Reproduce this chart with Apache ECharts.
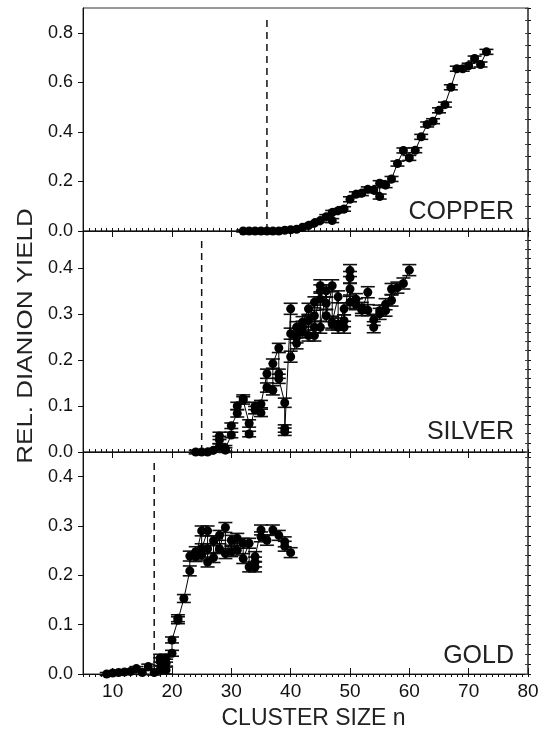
<!DOCTYPE html>
<html>
<head>
<meta charset="utf-8">
<script src="https://cdn.jsdelivr.net/npm/echarts@6/dist/echarts.min.js"></script>
<style>
  html, body { margin: 0; padding: 0; background: #fff; }
  #chart { width: 547px; height: 731px; }
</style>
</head>
<body>
<div id="chart"></div>
<script>
// [cluster size n, relative dianion yield, error]
var copperData = [
  [32, 0, 0.004], [33, 0, 0.004], [34, 0, 0.004], [35, 0, 0.004], [36, 0, 0.004],
  [37, 0, 0.004], [38, 0, 0.004], [39, 0.003, 0.004], [40, 0.005, 0.004], [41, 0.007, 0.005],
  [42, 0.015, 0.005], [43, 0.022, 0.006], [44, 0.032, 0.006], [45, 0.042, 0.007], [46, 0.058, 0.008],
  [47, 0.042, 0.008], [47, 0.075, 0.008], [48, 0.082, 0.008], [49, 0.089, 0.009], [50, 0.128, 0.01],
  [51, 0.148, 0.01], [52, 0.153, 0.01], [53, 0.168, 0.01], [54, 0.165, 0.01], [55, 0.139, 0.01],
  [55, 0.193, 0.01], [56, 0.185, 0.01], [57, 0.21, 0.01], [58, 0.272, 0.01], [59, 0.325, 0.01],
  [60, 0.295, 0.01], [61, 0.326, 0.01], [62, 0.38, 0.01], [63, 0.43, 0.01], [64, 0.443, 0.01],
  [65, 0.487, 0.01], [66, 0.51, 0.01], [67, 0.58, 0.01], [68, 0.655, 0.01], [69, 0.655, 0.01],
  [70, 0.667, 0.01], [71, 0.696, 0.01], [72, 0.672, 0.01], [73, 0.723, 0.01]
];

var silverData = [
  [24, 0, 0.004], [25, 0, 0.004], [26, 0, 0.004], [27, 0.004, 0.004],
  [28, 0.012, 0.006], [28, 0.035, 0.008], [28, 0.026, 0.008], [29, 0.008, 0.006], [29, 0.004, 0.005],
  [30, 0.037, 0.006], [30, 0.057, 0.006], [31, 0.084, 0.008], [31, 0.1, 0.008],
  [32, 0.112, 0.008], [32, 0.116, 0.008], [33, 0.062, 0.008], [33, 0.039, 0.006],
  [34, 0.1, 0.008], [34, 0.091, 0.008], [35, 0.085, 0.008], [35, 0.104, 0.008],
  [36, 0.17, 0.01], [36, 0.14, 0.01], [37, 0.134, 0.01], [37, 0.192, 0.01],
  [38, 0.226, 0.01], [38, 0.17, 0.01], [38, 0.159, 0.01],
  [39, 0.107, 0.01], [39, 0.051, 0.008], [39, 0.044, 0.008],
  [40, 0.311, 0.012], [40, 0.257, 0.012], [40, 0.207, 0.012],
  [41, 0.236, 0.012], [41, 0.271, 0.012], [41, 0.249, 0.012],
  [42, 0.272, 0.012], [42, 0.26, 0.012], [42, 0.282, 0.012],
  [43, 0.311, 0.012], [43, 0.253, 0.012], [43, 0.285, 0.012],
  [44, 0.325, 0.012], [44, 0.296, 0.012], [44, 0.253, 0.012], [44, 0.271, 0.012],
  [45, 0.361, 0.013], [45, 0.35, 0.013], [45, 0.332, 0.013], [45, 0.271, 0.013],
  [46, 0.35, 0.013], [46, 0.323, 0.013], [46, 0.296, 0.013],
  [47, 0.361, 0.013], [47, 0.282, 0.013], [47, 0.278, 0.013],
  [48, 0.337, 0.013], [48, 0.278, 0.013], [48, 0.271, 0.013],
  [49, 0.311, 0.013], [49, 0.271, 0.013], [49, 0.285, 0.013],
  [50, 0.394, 0.013], [50, 0.379, 0.013], [50, 0.354, 0.013], [50, 0.325, 0.013],
  [51, 0.332, 0.012], [51, 0.321, 0.012], [52, 0.313, 0.012], [52, 0.308, 0.012],
  [53, 0.347, 0.012], [53, 0.308, 0.012], [54, 0.287, 0.012], [54, 0.271, 0.012],
  [55, 0.3, 0.012], [55, 0.307, 0.012], [56, 0.321, 0.012], [56, 0.307, 0.012],
  [57, 0.354, 0.012], [57, 0.329, 0.012], [58, 0.357, 0.012], [59, 0.366, 0.012],
  [60, 0.395, 0.012]
];

var goldData = [
  [9, 0, 0.003], [10, 0.002, 0.003], [11, 0.003, 0.003], [12, 0.004, 0.003], [13, 0.005, 0.003],
  [14, 0.011, 0.004], [15, 0.003, 0.004], [16, 0.015, 0.005], [17, 0.003, 0.005],
  [18, 0.025, 0.008], [18, 0.032, 0.008], [18, 0.008, 0.008],
  [19, 0.008, 0.008], [19, 0.022, 0.008], [19, 0.032, 0.008],
  [20, 0.042, 0.006], [20, 0.069, 0.006], [21, 0.109, 0.007], [21, 0.113, 0.007],
  [22, 0.153, 0.008], [23, 0.209, 0.01], [23, 0.239, 0.01], [24, 0.248, 0.01], [24, 0.238, 0.01],
  [25, 0.29, 0.01], [25, 0.241, 0.01], [25, 0.254, 0.01],
  [26, 0.29, 0.01], [26, 0.227, 0.01], [26, 0.254, 0.01], [27, 0.27, 0.01], [27, 0.236, 0.01],
  [28, 0.281, 0.01], [28, 0.254, 0.01], [29, 0.297, 0.01], [29, 0.244, 0.01],
  [30, 0.271, 0.01], [30, 0.248, 0.01], [31, 0.275, 0.01], [31, 0.251, 0.01],
  [32, 0.265, 0.01], [32, 0.234, 0.01], [33, 0.265, 0.01], [33, 0.217, 0.01],
  [34, 0.217, 0.01], [34, 0.227, 0.01], [34, 0.238, 0.01], [35, 0.292, 0.01], [35, 0.278, 0.01],
  [36, 0.271, 0.01], [37, 0.292, 0.01], [38, 0.281, 0.01], [39, 0.268, 0.01], [39, 0.259, 0.01],
  [40, 0.246, 0.01]
];

// critical size (dashed line) and its top end, per panel
var critSize = [36, 25, 17];
var critTop = [0.864, 0.463, 0.43];

var panelNames = ['COPPER', 'SILVER', 'GOLD'];
var yMax = [0.9, 0.48, 0.45];
var yMajor = [0.2, 0.1, 0.1];
var yMinor = [0.05, 0.02, 0.02];
var xTicks = [10, 20, 30, 40, 50, 60, 70, 80];

var FONT = 'Liberation Sans, Arial, sans-serif';
var INK = '#111';

var chart = echarts.init(document.getElementById('chart'), null, { renderer: 'canvas' });

var panelTop = [8, 231, 452];
var panelHeight = [223, 221, 222];

var grids = [], xAxes = [], yAxes = [], series = [], graphics = [];
var allData = [copperData, silverData, goldData];

for (var i = 0; i < 3; i++) {
  var last = i === 2;
  grids.push({
    left: 83, right: 19, top: panelTop[i], height: panelHeight[i],
    show: true, borderColor: '#333', borderWidth: 1,
    containLabel: false, outerBoundsMode: 'none'
  });

  // major x ticks
  xAxes.push({
    gridIndex: i, type: 'value', min: 5, max: 80,
    axisLine: { show: true, onZero: false, lineStyle: { color: INK, width: 1 } },
    axisTick: { show: true, inside: last, length: 6, customValues: xTicks, lineStyle: { color: INK } },
    axisLabel: {
      show: last, customValues: xTicks, margin: 8,
      color: INK, fontSize: 19, fontFamily: FONT
    },
    splitLine: { show: false },
    name: last ? 'CLUSTER SIZE n' : '',
    nameLocation: 'middle', nameGap: 33,
    nameTextStyle: { color: '#222', fontSize: 23, fontFamily: FONT, padding: [0, 0, 0, 16] }
  });
  // minor x ticks
  xAxes.push({
    gridIndex: i, type: 'value', min: 5, max: 80, interval: 1,
    axisLine: { show: false },
    axisTick: { show: true, inside: last, length: 3, lineStyle: { color: INK } },
    axisLabel: { show: false },
    splitLine: { show: false }
  });

  // left main y axis
  yAxes.push({
    gridIndex: i, type: 'value', min: 0, max: yMax[i], interval: yMajor[i],
    axisLine: { show: true, onZero: false, lineStyle: { color: INK, width: 1 } },
    axisTick: { show: true, inside: false, length: 5, lineStyle: { color: INK } },
    axisLabel: {
      margin: 10, color: INK, fontSize: 18, fontFamily: FONT,
      showMaxLabel: false,
      formatter: function (v) { return v.toFixed(1); }
    },
    splitLine: { show: false }
  });
  // left minor y ticks
  yAxes.push({
    gridIndex: i, type: 'value', min: 0, max: yMax[i], interval: yMinor[i],
    axisLine: { show: false },
    axisTick: { show: true, inside: false, length: 3, lineStyle: { color: INK } },
    axisLabel: { show: false },
    splitLine: { show: false }
  });
  // right frame ticks
  yAxes.push({
    gridIndex: i, type: 'value', position: 'right', min: 0, max: yMax[i], interval: yMinor[i],
    axisLine: { show: true, onZero: false, lineStyle: { color: '#444', width: 1.5 } },
    axisTick: { show: true, inside: true, length: 3, lineStyle: { color: '#444' } },
    axisLabel: { show: false },
    splitLine: { show: false }
  });

  // dashed critical-size line
  series.push({
    type: 'line', xAxisIndex: i * 2, yAxisIndex: i * 3, z: 1,
    data: [[critSize[i], 0], [critSize[i], critTop[i]]],
    showSymbol: false, symbol: 'none', silent: true,
    lineStyle: { color: INK, width: 1.5, type: [7, 5] }
  });

  // error bars
  series.push({
    type: 'custom', xAxisIndex: i * 2, yAxisIndex: i * 3, z: 2,
    data: allData[i],
    encode: { x: 0, y: 1 },
    renderItem: function (params, api) {
      var x = api.value(0), y = api.value(1), e = api.value(2);
      var hi = api.coord([x, y + e]);
      var lo = api.coord([x, y - e]);
      var w = 7;
      var st = { stroke: '#111', lineWidth: 1.6 };
      return {
        type: 'group',
        children: [
          { type: 'line', shape: { x1: hi[0], y1: hi[1], x2: lo[0], y2: lo[1] }, style: st },
          { type: 'line', shape: { x1: hi[0] - w, y1: hi[1], x2: hi[0] + w, y2: hi[1] }, style: st },
          { type: 'line', shape: { x1: lo[0] - w, y1: lo[1], x2: lo[0] + w, y2: lo[1] }, style: st }
        ]
      };
    }
  });

  // data points joined by a thin line
  series.push({
    type: 'line', xAxisIndex: i * 2, yAxisIndex: i * 3, z: 3,
    data: allData[i].map(function (d) { return [d[0], d[1]]; }),
    symbol: 'circle', symbolSize: 9, showAllSymbol: true,
    itemStyle: { color: '#000' },
    lineStyle: { color: '#000', width: 1 },
    animation: false
  });

  graphics.push({
    type: 'text',
    style: {
      text: panelNames[i],
      x: 514, y: [212, 432, 656][i],
      align: 'right', verticalAlign: 'middle',
      fill: '#222', fontSize: 25, fontFamily: FONT
    }
  });
}

// shared y-axis title (stretched along its length, as in the original)
graphics.push({
  type: 'text',
  x: 26, y: 336, rotation: Math.PI / 2, scaleX: 1.18,
  style: {
    text: 'REL. DIANION YIELD',
    x: 0, y: 0, align: 'center', verticalAlign: 'middle',
    fill: '#222', fontSize: 22, fontFamily: FONT
  }
});

chart.setOption({
  backgroundColor: '#fff',
  animation: false,
  grid: grids,
  xAxis: xAxes,
  yAxis: yAxes,
  series: series,
  graphic: graphics
});
</script>
</body>
</html>
